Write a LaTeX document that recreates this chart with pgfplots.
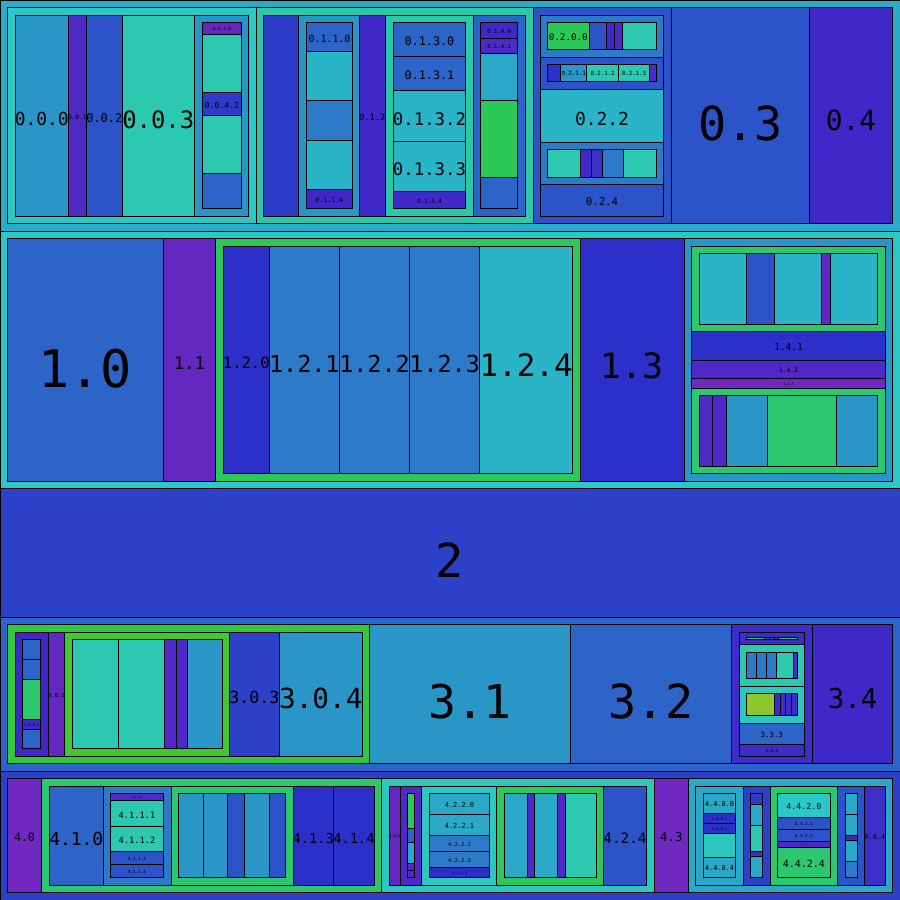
\documentclass[border=0pt]{standalone}
\usepackage{pgfplots}
\pgfplotsset{compat=1.18}
\usepackage{fontspec}
\newfontfamily\mono{DejaVu Sans Mono}
\definecolor{cZ}{HTML}{2AACC8}
\definecolor{cTealT}{HTML}{2CC8C8}
\definecolor{cA}{HTML}{2A96C8}
\definecolor{cA2}{HTML}{2AA8C8}
\definecolor{cCy}{HTML}{2AB4C8}
\definecolor{cTeal}{HTML}{2CC8B0}
\definecolor{cTealG}{HTML}{2CC8A8}
\definecolor{cTeal3}{HTML}{2CC8C0}
\definecolor{cGreen}{HTML}{2CC858}
\definecolor{cGreen2}{HTML}{2CC870}
\definecolor{cGreen3}{HTML}{30C840}
\definecolor{cLG}{HTML}{40C830}
\definecolor{cYG}{HTML}{8CC82C}
\definecolor{cBlue}{HTML}{2C54C8}
\definecolor{cBlue2}{HTML}{2C64C8}
\definecolor{cBlue3}{HTML}{2C7AC8}
\definecolor{cB1}{HTML}{2C3CC8}
\definecolor{cB40}{HTML}{2C40C8}
\definecolor{cDB}{HTML}{2C30C8}
\definecolor{cDB2}{HTML}{3A30C8}
\definecolor{cP1}{HTML}{4028C8}
\definecolor{cP1b}{HTML}{3C2CC8}
\definecolor{cP2}{HTML}{5028C8}
\definecolor{cP3}{HTML}{6428C0}
\definecolor{cP4}{HTML}{7028C0}
\newcommand{\R}[5]{\addplot[draw=black,line width=0.8pt,fill=#5,mark=none] coordinates {(#1,#2) (#3,#2) (#3,#4) (#1,#4)} -- cycle;}
\newcommand{\RL}[7]{\R{#1}{#2}{#3}{#4}{#5}\path (axis cs:#1,#2) -- (axis cs:#3,#4) node[midway,inner sep=0pt,font=\mono\fontsize{#6}{#6}\selectfont] {\rule{0pt}{1.07em}#7};}
\begin{document}
\begin{tikzpicture}
\begin{axis}[width=900bp,height=900bp,scale only axis,xmin=0,xmax=900,ymin=0,ymax=900,y dir=reverse,hide axis]
% ---- 0
\R{0}{0}{900}{231.7}{cZ}
\R{7.3}{7.3}{256.7}{223.3}{cTealT}
\RL{15.3}{15.3}{68.3}{216.3}{cA}{18}{0.0.0}
\RL{68.3}{15.3}{86.3}{216.3}{cP2}{6.2}{0.0.1}
\RL{86.3}{15.3}{122.3}{216.3}{cBlue}{12}{0.0.2}
\RL{122.3}{15.3}{194.3}{216.3}{cTeal}{24}{0.0.3}
\R{194.3}{15.3}{248.3}{216.3}{cA}
\RL{202.3}{22.3}{241.7}{34.3}{cP3}{4.2}{0.0.4.0}
\R{202.3}{34.3}{241.7}{92.3}{cTeal}
\RL{202.3}{92.3}{241.7}{115.3}{cB1}{8.1}{0.0.4.2}
\R{202.3}{115.3}{241.7}{173.3}{cTeal}
\R{202.3}{173.3}{241.7}{208.7}{cBlue2}
\R{256.7}{7.3}{533.3}{223.3}{cTealG}
\R{263.3}{15.3}{298.3}{216.3}{cB1}
\R{298.3}{15.3}{359.3}{216.3}{cA}
\RL{306.3}{22.3}{352.7}{51.7}{cBlue2}{10}{0.1.1.0}
\R{306.3}{51.7}{352.7}{100.3}{cCy}
\R{306.3}{100.3}{352.7}{140.3}{cBlue3}
\R{306.3}{140.3}{352.7}{189.3}{cCy}
\RL{306.3}{189.3}{352.7}{208.7}{cP1}{6.6}{0.1.1.4}
\RL{359.3}{15.3}{385.3}{216.3}{cP1}{8.7}{0.1.2}
\R{385.3}{15.3}{473.7}{216.3}{cTealG}
\RL{393.3}{22.3}{465.7}{56.7}{cBlue2}{11.8}{0.1.3.0}
\RL{393.3}{56.7}{465.7}{90.7}{cBlue2}{11.8}{0.1.3.1}
\RL{393.3}{90.7}{465.7}{141.7}{cCy}{17.4}{0.1.3.2}
\RL{393.3}{141.7}{465.7}{191.3}{cCy}{17.4}{0.1.3.3}
\RL{393.3}{191.3}{465.7}{208.7}{cP1}{5.9}{0.1.3.4}
\R{473.7}{15.3}{525.3}{216.3}{cBlue2}
\RL{480.7}{22.3}{517.7}{38.3}{cP1}{5.6}{0.1.4.0}
\RL{480.7}{38.3}{517.7}{53.3}{cP2}{5.6}{0.1.4.1}
\R{480.7}{53.3}{517.7}{100.3}{cA2}
\R{480.7}{100.3}{517.7}{177.3}{cGreen}
\R{480.7}{177.3}{517.7}{208.7}{cBlue2}
\R{533.3}{7.3}{671.7}{223.3}{cBlue}
\R{540.3}{15.3}{663.7}{57.3}{cBlue3}
\RL{547.3}{22.3}{589.3}{49.7}{cGreen}{9.3}{0.2.0.0}
\R{589.3}{22.3}{606.7}{49.7}{cBlue}
\R{606.7}{22.3}{614.7}{49.7}{cP1}
\R{614.7}{22.3}{622.7}{49.7}{cP2}
\R{622.7}{22.3}{656.7}{49.7}{cTeal}
\R{540.3}{57.3}{663.7}{89.3}{cBlue}
\R{547.3}{64.3}{560.7}{81.3}{cDB}
\RL{560.7}{64.3}{586.7}{81.3}{cA}{5.8}{0.2.1.1}
\RL{586.7}{64.3}{618.7}{81.3}{cTeal}{5.8}{0.2.1.2}
\RL{618.7}{64.3}{649.3}{81.3}{cTeal}{5.8}{0.2.1.3}
\R{649.3}{64.3}{656.7}{81.3}{cP2}
\RL{540.3}{89.3}{663.7}{142.7}{cCy}{18}{0.2.2}
\R{540.3}{142.7}{663.7}{184.3}{cBlue3}
\R{547.3}{149.3}{580.7}{177.3}{cTeal}
\R{580.7}{149.3}{591.7}{177.3}{cP1}
\R{591.7}{149.3}{602.7}{177.3}{cDB2}
\R{602.7}{149.3}{623.7}{177.3}{cBlue3}
\R{623.7}{149.3}{656.7}{177.3}{cTeal}
\RL{540.3}{184.3}{663.7}{216.3}{cBlue}{10.8}{0.2.4}
\RL{671.7}{7.3}{809.3}{223.3}{cBlue}{47}{0.3}
\RL{809.3}{7.3}{892.7}{223.3}{cP1}{28}{0.4}
% ---- 1
\R{0}{231.7}{900}{488}{cTealT}
\RL{7.3}{238.3}{163.3}{481.3}{cBlue2}{52}{1.0}
\RL{163.3}{238.3}{215.7}{481.3}{cP3}{17.4}{1.1}
\R{215.7}{238.3}{580.3}{481.3}{cGreen}
\RL{223.3}{246.3}{269.3}{473.3}{cDB}{15.6}{1.2.0}
\RL{269.3}{246.3}{339.3}{473.3}{cBlue3}{23.5}{1.2.1}
\RL{339.3}{246.3}{409.7}{473.3}{cBlue3}{23.5}{1.2.2}
\RL{409.7}{246.3}{479.7}{473.3}{cBlue3}{23.5}{1.2.3}
\RL{479.7}{246.3}{572.7}{473.3}{cCy}{31}{1.2.4}
\RL{580.3}{238.3}{684.3}{481.3}{cDB}{35}{1.3}
\R{684.3}{238.3}{892.7}{481.3}{cA}
\R{691.7}{246.3}{885.3}{331.3}{cGreen2}
\R{699.3}{253.3}{746.3}{324.3}{cCy}
\R{746.3}{253.3}{774.3}{324.3}{cBlue}
\R{774.3}{253.3}{821.3}{324.3}{cCy}
\R{821.3}{253.3}{830.3}{324.3}{cP3}
\R{830.3}{253.3}{877.7}{324.3}{cCy}
\RL{691.7}{331.3}{885.3}{360.3}{cDB}{9.5}{1.4.1}
\RL{691.7}{360.3}{885.3}{378.3}{cP2}{6.3}{1.4.2}
\RL{691.7}{378.3}{885.3}{388.3}{cP4}{3.5}{1.4.3}
\R{691.7}{388.3}{885.3}{473.3}{cGreen2}
\R{699.3}{395.3}{712.3}{466.3}{cP2}
\R{712.3}{395.3}{726.3}{466.3}{cP2}
\R{726.3}{395.3}{767.3}{466.3}{cA}
\R{767.3}{395.3}{836.3}{466.3}{cGreen2}
\R{836.3}{395.3}{877.7}{466.3}{cA}
% ---- 2
\RL{0}{488}{900}{617.3}{cB40}{47}{2}
% ---- 3
\R{0}{617.3}{900}{771.3}{cBlue2}
\R{7.3}{624.3}{369.3}{763.3}{cGreen3}
\R{15.3}{632.3}{48.7}{756.3}{cP1}
\R{22.3}{639.3}{40.7}{659.3}{cBlue2}
\R{22.3}{659.3}{40.7}{679.3}{cBlue2}
\R{22.3}{679.3}{40.7}{719.3}{cGreen2}
\RL{22.3}{719.3}{40.7}{729.3}{cP1}{3.5}{3.0.0.3}
\R{22.3}{729.3}{40.7}{748.3}{cBlue2}
\RL{48.7}{632.3}{64.3}{756.3}{cP3}{5.5}{3.0.1}
\R{64.3}{632.3}{229.3}{756.3}{cLG}
\R{72.3}{639.3}{118.7}{748.3}{cTeal}
\R{118.7}{639.3}{164.3}{748.3}{cTeal}
\R{164.3}{639.3}{176.3}{748.3}{cP2}
\R{176.3}{639.3}{187.3}{748.3}{cP2}
\R{187.3}{639.3}{222.3}{748.3}{cA}
\RL{229.3}{632.3}{279.3}{756.3}{cB40}{16.7}{3.0.3}
\RL{279.3}{632.3}{362.3}{756.3}{cA}{27.8}{3.0.4}
\RL{369.3}{624.3}{570.7}{763.3}{cA}{46.6}{3.1}
\RL{570.7}{624.3}{731.3}{763.3}{cBlue2}{47}{3.2}
\R{731.3}{624.3}{812.3}{763.3}{cP1b}
\R{739.3}{632.3}{804.3}{644.3}{cP1b}
\R{746.3}{637.3}{797.7}{639.7}{cGreen}
\R{764.7}{637.3}{769.3}{639.7}{cBlue}
\R{769.3}{637.3}{774}{639.7}{cBlue}
\R{774}{637.3}{778.7}{639.7}{cP2}
\R{739.3}{644.3}{804.3}{686.3}{cTeal}
\R{746.3}{652.3}{756.3}{678.3}{cBlue3}
\R{756.3}{652.3}{766.3}{678.3}{cBlue3}
\R{766.3}{652.3}{776.3}{678.3}{cBlue3}
\R{776.3}{652.3}{793.3}{678.3}{cTeal}
\R{793.3}{652.3}{797.7}{678.3}{cP2}
\R{739.3}{686.3}{804.3}{723.3}{cTeal3}
\R{746.3}{693.3}{774.3}{715.3}{cYG}
\R{774.3}{693.3}{780.3}{715.3}{cP1b}
\R{780.3}{693.3}{785.7}{715.3}{cP1b}
\R{785.7}{693.3}{791.7}{715.3}{cP1b}
\R{791.7}{693.3}{797.7}{715.3}{cP1b}
\RL{739.3}{723.3}{804.3}{744.3}{cBlue2}{7.4}{3.3.3}
\RL{739.3}{744.3}{804.3}{756.3}{cP1b}{4.3}{3.3.4}
\RL{812.3}{624.3}{892.7}{763.3}{cP1}{27.5}{3.4}
% ---- 4
\R{0}{771.3}{900}{900}{cB40}
\RL{7.3}{778.3}{41.7}{892.3}{cP4}{11.6}{4.0}
\R{41.7}{778.3}{381.7}{892.3}{cGreen2}
\RL{49.3}{786.3}{103.3}{885.3}{cBlue2}{18}{4.1.0}
\R{103.3}{786.3}{171.7}{885.3}{cBlue3}
\RL{110.3}{793.3}{163.7}{800.3}{cP2}{2.3}{4.1.1.0}
\RL{110.3}{800.3}{163.7}{826.7}{cTeal}{8.7}{4.1.1.1}
\RL{110.3}{826.7}{163.7}{851.3}{cTeal}{8.7}{4.1.1.2}
\RL{110.3}{851.3}{163.7}{864.7}{cBlue}{4.3}{4.1.1.3}
\RL{110.3}{864.7}{163.7}{877.3}{cBlue}{4.3}{4.1.1.4}
\R{171.7}{786.3}{293.3}{885.3}{cGreen2}
\R{178.7}{793.3}{203.7}{877.3}{cA}
\R{203.7}{793.3}{227.7}{877.3}{cA}
\R{227.7}{793.3}{244.7}{877.3}{cBlue}
\R{244.7}{793.3}{269.7}{877.3}{cA}
\R{269.7}{793.3}{285.7}{877.3}{cBlue}
\RL{293.3}{786.3}{333.3}{885.3}{cDB}{13.8}{4.1.3}
\RL{333.3}{786.3}{374.7}{885.3}{cDB}{13.8}{4.1.4}
\R{381.7}{778.3}{654.3}{892.3}{cTeal3}
\RL{389.3}{786.3}{400.7}{885.3}{cP3}{3.8}{4.2.0}
\R{400.7}{786.3}{421.7}{885.3}{cP2}
\R{407.3}{793.3}{414.7}{828.3}{cGreen}
\R{407.3}{828.3}{414.7}{842.3}{cBlue2}
\R{407.3}{842.3}{414.7}{863.3}{cA2}
\R{407.3}{863.3}{414.7}{870.3}{cP2}
\R{407.3}{870.3}{414.7}{877.3}{cP2}
\R{421.7}{786.3}{496.3}{885.3}{cTeal3}
\RL{429.3}{793.3}{489.7}{814.3}{cA2}{7}{4.2.2.0}
\RL{429.3}{814.3}{489.7}{835.3}{cA2}{7}{4.2.2.1}
\RL{429.3}{835.3}{489.7}{851.7}{cBlue3}{5.4}{4.2.2.2}
\RL{429.3}{851.7}{489.7}{867.3}{cBlue3}{5.4}{4.2.2.3}
\RL{429.3}{867.3}{489.7}{877.3}{cDB}{3.5}{4.2.2.4}
\R{496.3}{786.3}{603.3}{885.3}{cGreen}
\R{504.3}{793.3}{527.3}{877.3}{cA2}
\R{527.3}{793.3}{534.3}{877.3}{cP2}
\R{534.3}{793.3}{557.3}{877.3}{cA2}
\R{557.3}{793.3}{565.3}{877.3}{cP2}
\R{565.3}{793.3}{596.7}{877.3}{cTeal}
\RL{603.3}{786.3}{646.7}{885.3}{cBlue}{14.4}{4.2.4}
\RL{654.3}{778.3}{688.3}{892.3}{cP4}{12.4}{4.3}
\R{688.3}{778.3}{892.3}{892.3}{cA2}
\R{695.3}{786.3}{743.7}{885.3}{cA2}
\RL{703.3}{793.3}{735.7}{813.3}{cA2}{6.9}{4.4.0.0}
\RL{703.3}{813.3}{735.7}{823.3}{cDB}{3.6}{4.4.0.1}
\RL{703.3}{823.3}{735.7}{833.7}{cDB}{3.6}{4.4.0.2}
\R{703.3}{833.7}{735.7}{857.3}{cTeal3}
\RL{703.3}{857.3}{735.7}{877.3}{cA2}{6.9}{4.4.0.4}
\R{743.7}{786.3}{770.3}{885.3}{cB40}
\R{750.3}{793.3}{762.3}{804.3}{cB1}
\R{750.3}{804.3}{762.3}{825.3}{cA2}
\R{750.3}{825.3}{762.3}{851.3}{cTeal}
\RL{750.3}{851.3}{762.3}{856.3}{cP2}{1.8}{4.4.1.3}
\R{750.3}{856.3}{762.3}{877.3}{cA2}
\R{770.3}{786.3}{837.3}{885.3}{cGreen2}
\RL{777.3}{793.3}{830.3}{817.3}{cTealT}{8.3}{4.4.2.0}
\RL{777.3}{817.3}{830.3}{829.3}{cBlue}{4.2}{4.4.2.1}
\RL{777.3}{829.3}{830.3}{841.3}{cBlue}{4.2}{4.4.2.2}
\RL{777.3}{841.3}{830.3}{847.3}{cP2}{2.1}{4.4.2.3}
\RL{777.3}{847.3}{830.3}{877.3}{cGreen2}{10}{4.4.2.4}
\R{837.3}{786.3}{864.3}{885.3}{cBlue}
\R{845.3}{793.3}{857.7}{814.3}{cA2}
\R{845.3}{814.3}{857.7}{835.3}{cA2}
\RL{845.3}{835.3}{857.7}{840.3}{cP2}{2.3}{4.4.3.2}
\R{845.3}{840.3}{857.7}{861.3}{cA2}
\R{845.3}{861.3}{857.7}{877.3}{cBlue3}
\RL{864.3}{786.3}{885.3}{885.3}{cDB2}{6.9}{4.4.4}
\end{axis}
\end{tikzpicture}
\end{document}
